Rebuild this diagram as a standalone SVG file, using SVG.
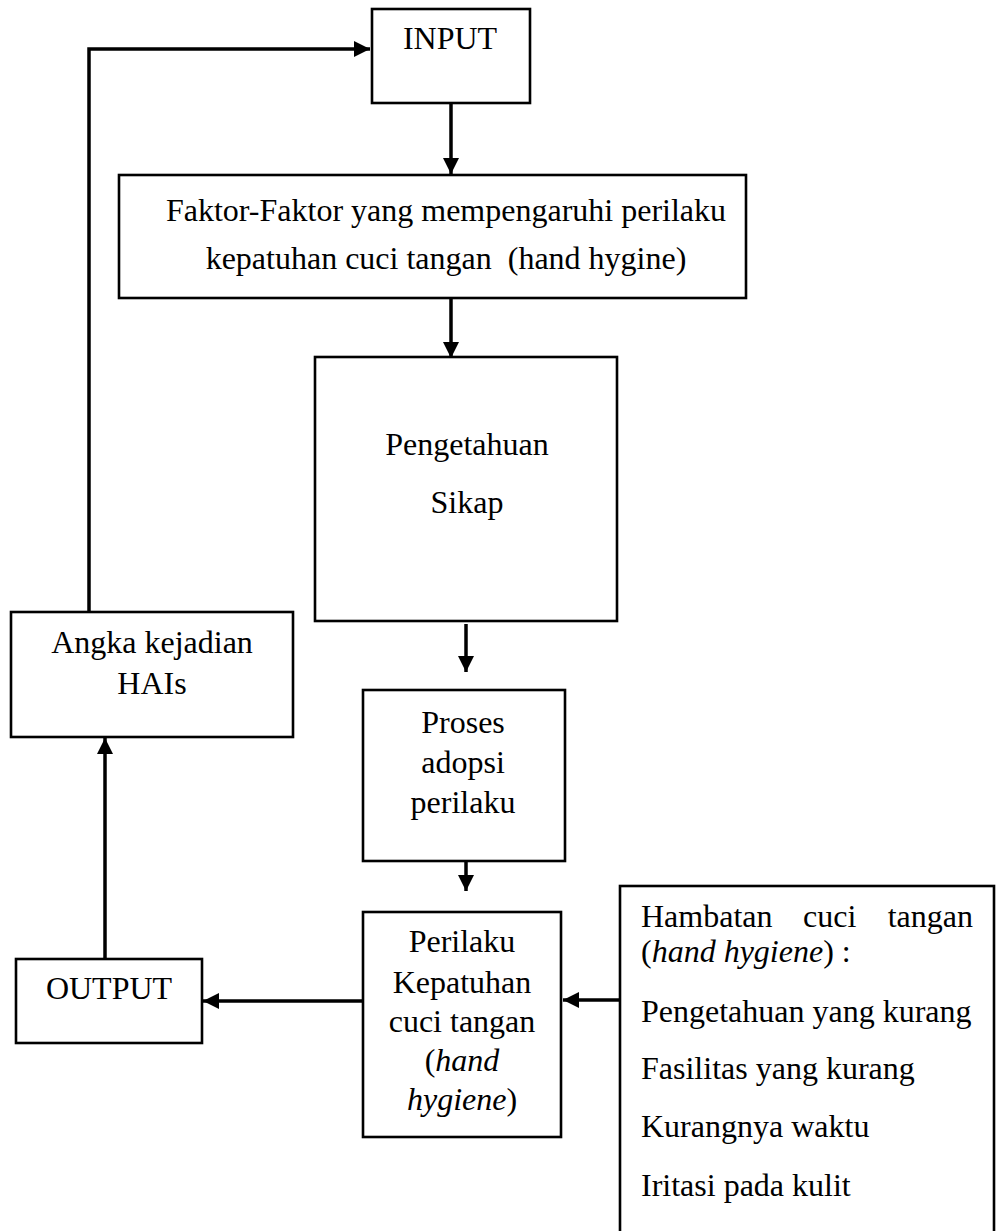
<svg xmlns="http://www.w3.org/2000/svg" width="996" height="1231" viewBox="0 0 996 1231">
<style>
.box{fill:#fff;stroke:#000;stroke-width:2.6}
.ln{fill:none;stroke:#000;stroke-width:3.5}
text{font-family:"Liberation Serif","Times New Roman",serif;font-size:32px;fill:#000}
.c{text-anchor:middle}
</style>
<defs>
<marker id="ah" markerUnits="userSpaceOnUse" markerWidth="16" markerHeight="16" viewBox="0 0 16 16" refX="16" refY="8" orient="auto">
<path d="M0,0 L16,8 L0,16 Z" fill="#000"/>
</marker>
</defs>
<rect width="996" height="1231" fill="#fff"/>
<g id="connectors">
<path class="ln" d="M89,612 V49 H370" marker-end="url(#ah)"/>
<path class="ln" d="M451,103 V174" marker-end="url(#ah)"/>
<path class="ln" d="M451,282 V358" marker-end="url(#ah)"/>
<path class="ln" d="M466,624 V672" marker-end="url(#ah)"/>
<path class="ln" d="M466,843 V891" marker-end="url(#ah)"/>
<path class="ln" d="M620,1000 H563" marker-end="url(#ah)"/>
<path class="ln" d="M363,1001 H203" marker-end="url(#ah)"/>
<path class="ln" d="M105,958 V738" marker-end="url(#ah)"/>
</g>
<g id="input">
<rect class="box" x="372" y="9" width="158" height="94"/>
<text class="c" x="450" y="49">INPUT</text>
</g>
<g id="faktor">
<rect class="box" x="119" y="175" width="627" height="123"/>
<text class="c" x="446" y="221">Faktor-Faktor yang mempengaruhi perilaku</text>
<text class="c" x="446" y="269" xml:space="preserve">kepatuhan cuci tangan  (hand hygine)</text>
</g>
<g id="pengetahuan">
<rect class="box" x="315" y="357" width="302" height="264"/>
<text class="c" x="467" y="455">Pengetahuan</text>
<text class="c" x="467" y="513">Sikap</text>
</g>
<g id="proses">
<rect class="box" x="363" y="690" width="202" height="171"/>
<text class="c" x="463" y="733">Proses</text>
<text class="c" x="463" y="773">adopsi</text>
<text class="c" x="463" y="813">perilaku</text>
</g>
<g id="perilaku">
<rect class="box" x="363" y="912" width="198" height="225"/>
<text class="c" x="462" y="952">Perilaku</text>
<text class="c" x="462" y="993">Kepatuhan</text>
<text class="c" x="462" y="1032">cuci tangan</text>
<text class="c" x="462" y="1071">(<tspan font-style="italic">hand</tspan></text>
<text class="c" x="462" y="1110"><tspan font-style="italic">hygiene</tspan>)</text>
</g>
<g id="angka">
<rect class="box" x="11" y="612" width="282" height="125"/>
<text class="c" x="152" y="653">Angka kejadian</text>
<text class="c" x="152" y="694">HAIs</text>
</g>
<g id="output">
<rect class="box" x="16" y="959" width="186" height="84"/>
<text class="c" x="109" y="999">OUTPUT</text>
</g>
<g id="hambatan">
<rect class="box" x="620" y="886" width="374" height="360"/>
<text y="927"><tspan x="641">Hambatan</tspan><tspan x="803">cuci</tspan><tspan x="973" text-anchor="end">tangan</tspan></text>
<text x="641" y="962">(<tspan font-style="italic">hand hygiene</tspan>) :</text>
<text x="641" y="1022">Pengetahuan yang kurang</text>
<text x="641" y="1079">Fasilitas yang kurang</text>
<text x="641" y="1137">Kurangnya waktu</text>
<text x="641" y="1196">Iritasi pada kulit</text>
</g>
</svg>
